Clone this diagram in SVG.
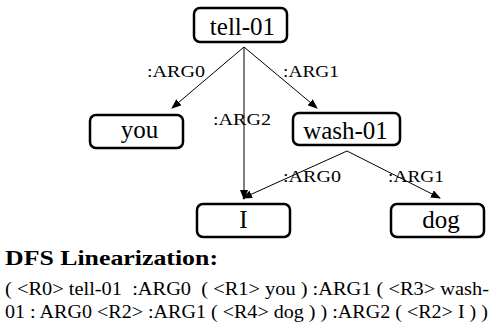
<svg xmlns="http://www.w3.org/2000/svg" width="494" height="322" viewBox="0 0 494 322">
<style>
.box{fill:#fff;stroke:#000;stroke-width:2.5}
.nt{font-size:25px;text-anchor:middle}
.lb{font-size:16px}
.t{font-size:18px}
</style>
<defs>
<marker id="ah" markerWidth="10" markerHeight="8" refX="9" refY="4" orient="auto" markerUnits="userSpaceOnUse">
<path d="M0,0 L10,4 L0,8 z" fill="#000"/>
</marker>
</defs>
<rect width="494" height="322" fill="#fff"/>
<g id="connectors" stroke="#000" stroke-width="1" fill="none" marker-end="url(#ah)">
<line x1="244" y1="47" x2="172" y2="108"/>
<line x1="244" y1="47" x2="317" y2="108"/>
<line x1="244" y1="47" x2="244" y2="199"/>
<line x1="347" y1="151" x2="243" y2="198"/>
<line x1="347" y1="151" x2="440" y2="198"/>
</g>
<g id="labels" font-family="Times New Roman, Liberation Serif, serif">
<text class="lb" x="147" y="77" textLength="58" lengthAdjust="spacingAndGlyphs">:ARG0</text>
<text class="lb" x="283" y="77" textLength="56" lengthAdjust="spacingAndGlyphs">:ARG1</text>
<text class="lb" x="213" y="125" textLength="58" lengthAdjust="spacingAndGlyphs">:ARG2</text>
<text class="lb" x="283" y="182" textLength="58" lengthAdjust="spacingAndGlyphs">:ARG0</text>
<text class="lb" x="388" y="182" textLength="56" lengthAdjust="spacingAndGlyphs">:ARG1</text>
</g>
<g font-family="Times New Roman, Liberation Serif, serif">
<g id="tell01"><rect class="box" x="194" y="8" width="93" height="34" rx="6"/><text class="nt" x="242.5" y="35">tell-01</text></g>
<g id="you"><rect class="box" x="90" y="115" width="93" height="33" rx="6"/><text class="nt" x="139.5" y="138">you</text></g>
<g id="wash01"><rect class="box" x="293" y="113" width="107" height="32" rx="6"/><text class="nt" x="345.5" y="139">wash-01</text></g>
<g id="I"><rect class="box" x="197" y="204" width="93" height="33" rx="6"/><text class="nt" x="243.5" y="228">I</text></g>
<g id="dog"><rect class="box" x="391" y="204" width="93" height="33" rx="6"/><text class="nt" x="441" y="228">dog</text></g>
</g>
<g id="caption" font-family="Times New Roman, Liberation Serif, serif">
<text x="5" y="265" font-size="21" font-weight="bold" textLength="213" lengthAdjust="spacingAndGlyphs">DFS Linearization:</text>
<text class="t" x="5" y="295" xml:space="preserve" textLength="484" lengthAdjust="spacingAndGlyphs">( &lt;R0&gt; tell-01  :ARG0  ( &lt;R1&gt; you ) :ARG1 ( &lt;R3&gt; wash-</text>
<text class="t" x="5" y="318" textLength="483" lengthAdjust="spacingAndGlyphs">01 : ARG0 &lt;R2&gt; :ARG1 ( &lt;R4&gt; dog ) ) :ARG2 ( &lt;R2&gt; I ) )</text>
</g>
</svg>
